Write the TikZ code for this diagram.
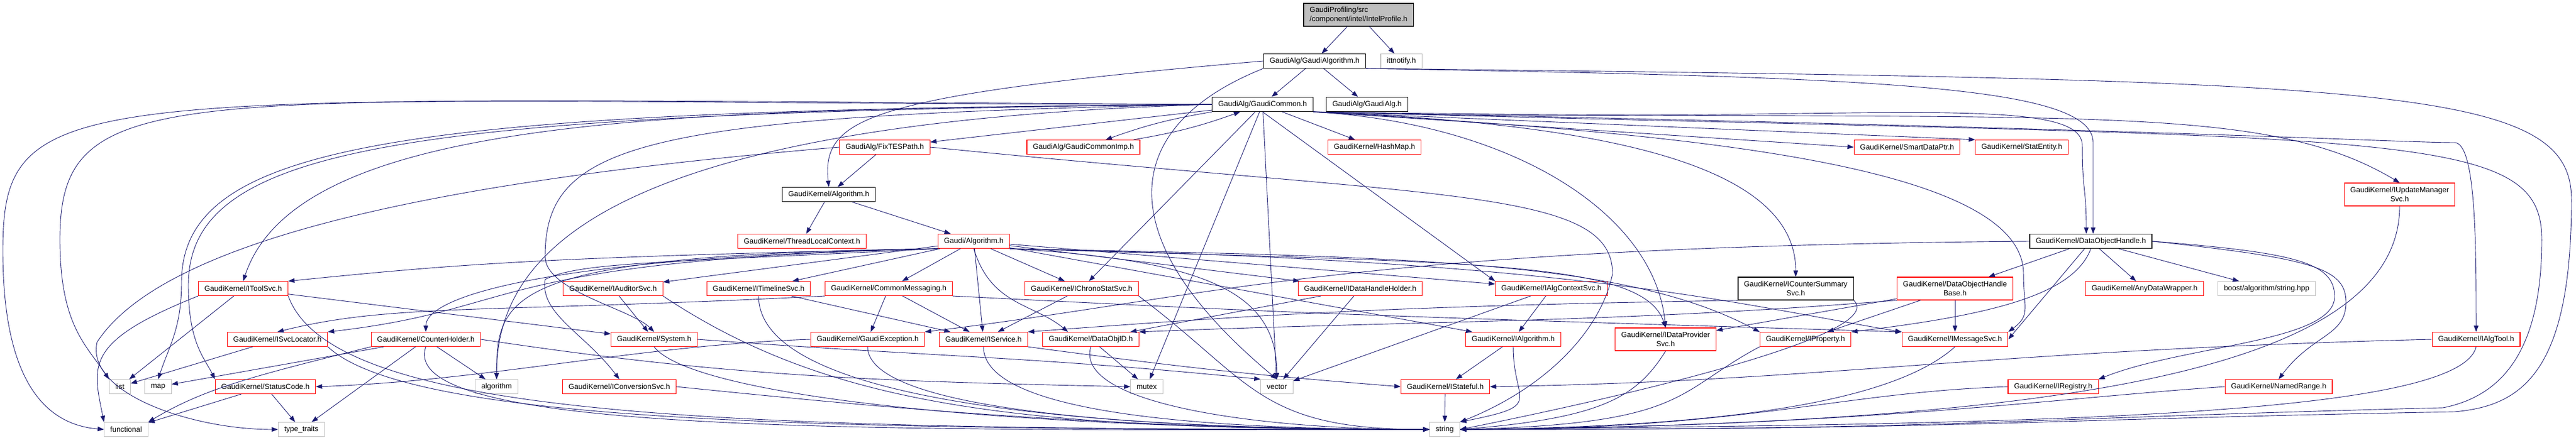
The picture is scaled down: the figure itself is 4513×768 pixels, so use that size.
\documentclass[tikz,border=0pt]{standalone}
\usepackage{fontspec}
\setmainfont{Liberation Sans}
\usetikzlibrary{arrows.meta}
\definecolor{edgeblue}{HTML}{191970}
\definecolor{boxgray}{HTML}{BFBFBF}

\begin{document}
\begin{tikzpicture}[x=1pt,y=-1pt,
	file/.style={draw, line width=1.1pt, inner xsep=10.5pt, inner ysep=2pt, minimum height=25pt, font=\fontsize{13}{15.5}\selectfont},
	known/.style={file, draw=black, line width=1.3pt},
	trunc/.style={file, draw=red},
	sys/.style={file, draw=boxgray},
	twoline/.style={align=center, minimum height=40pt},
	dep/.style={draw=edgeblue, line width=0.9pt, -{Triangle[length=11pt,width=8pt]}}]
				\path[fill=white, use as bounding box] (0,0) rectangle (4513,768);

				\node[known, fill=boxgray, align=left, minimum height=40pt] (intel) at (2380,26) {GaudiProfiling/src\\/component/intel/IntelProfile.h};
				\node[known] (galgorithm) at (2303,107) {GaudiAlg/GaudiAlgorithm.h};
				\node[sys] (ittnotify) at (2455,107) {ittnotify.h};
				\node[known] (gcommon) at (2212,183) {GaudiAlg/GaudiCommon.h};
				\node[known] (galg) at (2395,183) {GaudiAlg/GaudiAlg.h};
				\node[trunc] (fixtes) at (1550,258) {GaudiAlg/FixTESPath.h};
				\node[trunc] (gcommonimp) at (1898,258) {GaudiAlg/GaudiCommonImp.h};
				\node[trunc] (hashmap) at (2408,258) {GaudiKernel/HashMap.h};
				\node[trunc] (smartdataptr) at (3341,258) {GaudiKernel/SmartDataPtr.h};
				\node[trunc] (statentity) at (3542,258) {GaudiKernel/StatEntity.h};
				\node[known] (algorithm) at (1452,341) {GaudiKernel/Algorithm.h};
				\node[trunc, twoline] (iupdatemgr) at (4204,341) {GaudiKernel/IUpdateManager\\Svc.h};
				\node[trunc] (threadlocal) at (1405,423) {GaudiKernel/ThreadLocalContext.h};
				\node[trunc] (gaudialgorithm) at (1706,423) {Gaudi/Algorithm.h};
				\node[known] (dohandle) at (3663,423) {GaudiKernel/DataObjectHandle.h};
				\node[trunc] (itoolsvc) at (426,506) {GaudiKernel/IToolSvc.h};
				\node[trunc] (iauditorsvc) at (1074,506) {GaudiKernel/IAuditorSvc.h};
				\node[trunc] (itimelinesvc) at (1329,506) {GaudiKernel/ITimelineSvc.h};
				\node[trunc] (commonmsg) at (1557,506) {GaudiKernel/CommonMessaging.h};
				\node[trunc] (ichronostatsvc) at (1895,506) {GaudiKernel/IChronoStatSvc.h};
				\node[trunc] (idatahandleholder) at (2383,506) {GaudiKernel/IDataHandleHolder.h};
				\node[trunc] (ialgcontextsvc) at (2718,506) {GaudiKernel/IAlgContextSvc.h};
				\node[known, twoline] (icountersummary) at (3146,506) {GaudiKernel/ICounterSummary\\Svc.h};
				\node[trunc, twoline] (dohandlebase) at (3425,506) {GaudiKernel/DataObjectHandle\\Base.h};
				\node[trunc] (anydatawrapper) at (3757,506) {GaudiKernel/AnyDataWrapper.h};
				\node[sys] (boost) at (3971,506) {boost/algorithm/string.hpp};
				\node[trunc] (isvclocator) at (486,595) {GaudiKernel/ISvcLocator.h};
				\node[trunc] (counterholder) at (746,595) {GaudiKernel/CounterHolder.h};
				\node[trunc] (system) at (1146,595) {GaudiKernel/System.h};
				\node[trunc] (gaudiexception) at (1520,595) {GaudiKernel/GaudiException.h};
				\node[trunc] (iservice) at (1723,595) {GaudiKernel/IService.h};
				\node[trunc] (dataobjid) at (1911,595) {GaudiKernel/DataObjID.h};
				\node[trunc] (ialgorithm) at (2651,595) {GaudiKernel/IAlgorithm.h};
				\node[trunc, twoline] (idataprovider) at (2918,595) {GaudiKernel/IDataProvider\\Svc.h};
				\node[trunc] (iproperty) at (3163,595) {GaudiKernel/IProperty.h};
				\node[trunc] (imessagesvc) at (3425,595) {GaudiKernel/IMessageSvc.h};
				\node[trunc] (ialgtool) at (4338,595) {GaudiKernel/IAlgTool.h};
				\node[sys] (list) at (210,678) {list};
				\node[sys] (map) at (277,678) {map};
				\node[trunc] (statuscode) at (465,678) {GaudiKernel/StatusCode.h};
				\node[sys] (stdalgorithm) at (870,678) {algorithm};
				\node[trunc] (iconversionsvc) at (1085,678) {GaudiKernel/IConversionSvc.h};
				\node[sys] (mutex) at (2009,678) {mutex};
				\node[sys] (vector) at (2237,678) {vector};
				\node[trunc] (istateful) at (2532,678) {GaudiKernel/IStateful.h};
				\node[trunc] (iregistry) at (3597,678) {GaudiKernel/IRegistry.h};
				\node[trunc] (namedrange) at (3992,678) {GaudiKernel/NamedRange.h};
				\node[sys] (functional) at (221,753) {functional};
				\node[sys] (typetraits) at (528,753) {type\_traits};
				\node[sys] (string) at (2531,753) {string};

				\draw[dep] (intel) -- (galgorithm);
				\draw[dep] (intel) -- (ittnotify);
				\draw[dep] (galgorithm) -- (gcommon);
				\draw[dep] (galgorithm) -- (galg);
				\draw[dep] (galgorithm.west) .. controls +(-700,60) and +(-12,-120) .. (algorithm.north);
				\draw[dep] (galgorithm.south west) .. controls +(-250,100) and +(-300,-250) .. (vector.north);
				\draw[dep] (galgorithm.south east) .. controls +(900,15) and +(0,-100) .. (3667,250) .. controls +(0,80) and +(0,-80) .. ([xshift=4pt]dohandle.north);
				\draw[dep] (galgorithm.south east) .. controls +(1800,20) and +(0,-200) .. (4505,350) .. controls +(0,300) and +(120,-10) .. (4300,722) .. controls +(-800,15) and +(900,0) .. (string.east);

				\draw[dep] (gcommon) -- (fixtes);
				\draw[dep] (gcommon) to[bend right=5] (gcommonimp);
				\draw[dep] (gcommonimp) to[bend right=5] (gcommon);
				\draw[dep] (gcommon) -- (hashmap);
				\draw[dep] (gcommon.south east) -- (smartdataptr.west);
				\draw[dep] (gcommon.south east) -- (statentity.north west);
				\draw[dep] (gcommon.south east) .. controls +(1300,20) and +(-250,-150) .. (iupdatemgr.north);
				\draw[dep] (gcommon.south east) .. controls +(1500,30) and +(-100,0) .. (4300,250) .. controls +(38,0) and +(0,-150) .. (ialgtool.north);
				\draw[dep] (gcommon.south east) .. controls +(900,25) and +(0,-100) .. (3648,255) .. controls +(0,80) and +(0,-80) .. ([xshift=-8pt]dohandle.north);
				\draw[dep] (gcommon.south east) .. controls +(1900,50) and +(0,-200) .. (4453,420) .. controls +(0,200) and +(100,-20) .. (4280,715) .. controls +(-800,20) and +(900,0) .. (string.east);
				\draw[dep] (gcommon) -- (ichronostatsvc);
				\draw[dep] (gcommon.south) -- (ialgcontextsvc.north west);
				\draw[dep] (gcommon) -- (mutex);
				\draw[dep] (gcommon) -- (vector);
				\draw[dep] (gcommon.south east) .. controls +(500,20) and +(0,-200) .. (icountersummary.north);
				\draw[dep] (gcommon.south east) .. controls +(350,20) and +(-20,-200) .. (idataprovider.north);
				\draw[dep] (gcommon.south east) .. controls +(600,35) and +(0,-200) .. (3545,480) .. controls +(0,60) and +(40,-30) .. (imessagesvc.north east);
				\draw[dep] (gcommon.west) .. controls +(-900,10) and +(100,-300) .. (itoolsvc.north);
				\draw[dep] (gcommon.west) .. controls +(-1000,20) and +(0,-200) .. (955,450) .. controls +(0,60) and +(-40,-40) .. (system.north);
				\draw[dep] (gcommon.west) .. controls +(-1000,30) and +(0,-250) .. (stdalgorithm.north);
				\draw[dep] (gcommon.west) .. controls +(-1400,15) and +(0,-250) .. (330,500) .. controls +(0,100) and +(-20,-40) .. (statuscode.north west);
				\draw[dep] (gcommon.west) .. controls +(-1400,10) and +(0,-250) .. (318,495) .. controls +(0,80) and +(20,-60) .. (map.north);
				\draw[dep] (gcommon.west) .. controls +(-1800,0) and +(0,-300) .. (105,420) .. controls +(0,150) and +(-40,-60) .. (list.north west);
				\draw[dep] (gcommon.west) .. controls +(-2000,-10) and +(0,-300) .. (5,440) .. controls +(0,200) and +(-120,-10) .. (functional.west);

				\draw[dep] (fixtes) -- (algorithm);
				\draw[dep] (fixtes.east) .. controls +(900,90) and +(0,-150) .. (2825,480) .. controls +(-20,100) and +(150,-60) .. (string.north east);
				\draw[dep] (fixtes.west) .. controls +(-600,50) and +(130,-200) .. (170,600) .. controls +(-20,90) and +(-150,0) .. (typetraits.west);
				\draw[dep] (algorithm) -- (threadlocal);
				\draw[dep] (algorithm) -- (gaudialgorithm);

				\draw[dep] (gaudialgorithm.south west) .. controls +(-700,15) and +(300,-30) .. (itoolsvc.north east);
				\draw[dep] (gaudialgorithm.south west) .. controls +(-800,20) and +(350,-40) .. (isvclocator.north east);
				\draw[dep] (gaudialgorithm.south west) .. controls +(-700,15) and +(0,-60) .. (counterholder.north);
				\draw[dep] (gaudialgorithm.south west) .. controls +(-750,10) and +(0,-150) .. (stdalgorithm.north);
				\draw[dep] (gaudialgorithm.south west) .. controls +(-500,25) and +(60,-30) .. (955,490) .. controls +(-10,60) and +(-60,-80) .. (iconversionsvc.north);
				\draw[dep] (gaudialgorithm) -- (iauditorsvc);
				\draw[dep] (gaudialgorithm) -- (itimelinesvc);
				\draw[dep] (gaudialgorithm) -- (commonmsg);
				\draw[dep] (gaudialgorithm) -- (ichronostatsvc);
				\draw[dep] (gaudialgorithm) -- (iservice);
				\draw[dep] (gaudialgorithm.south) .. controls +(30,100) and +(-60,-50) .. ([xshift=-40pt]dataobjid.north);
				\draw[dep] (gaudialgorithm) -- (idatahandleholder);
				\draw[dep] (gaudialgorithm) -- (ialgcontextsvc);
				\draw[dep] (gaudialgorithm) -- (ialgorithm);
				\draw[dep] (gaudialgorithm.south east) .. controls +(730,14) and +(-230,-123) .. (iproperty.north west);
				\draw[dep] (gaudialgorithm.south east) .. controls +(1000,20) and +(-300,-50) .. (imessagesvc.north west);
				\draw[dep] (gaudialgorithm.south east) .. controls +(800,25) and +(-40,-120) .. (idataprovider.north);
				\draw[dep] (gaudialgorithm.south east) .. controls +(350,20) and +(0,-150) .. (vector.north);

				\draw[dep] (commonmsg) -- (gaudiexception);
				\draw[dep] (commonmsg) -- (iservice);
				\draw[dep] (commonmsg.south west) .. controls +(-600,30) and +(200,-50) .. (isvclocator.north);
				\draw[dep] (commonmsg.south east) .. controls +(600,30) and +(-1000,-30) .. (imessagesvc.north west);
				\draw[dep] (ichronostatsvc) -- (iservice);
				\draw[dep] (ichronostatsvc.south east) .. controls +(200,150) and +(-300,0) .. (string.west);
				\draw[dep] (iauditorsvc) -- (system);
				\draw[dep] (iauditorsvc.south east) .. controls +(300,200) and +(-700,0) .. (string.west);
				\draw[dep] (itimelinesvc) -- (iservice);
				\draw[dep] (itimelinesvc.south) .. controls +(0,150) and +(-800,0) .. (string.west);
				\draw[dep] (itoolsvc) -- (list);
				\draw[dep] (itoolsvc.south west) .. controls +(-200,80) and +(-20,-100) .. (functional.north west);
				\draw[dep] (itoolsvc) -- (system);
				\draw[dep] (itoolsvc.south east) .. controls +(80,220) and +(-1200,0) .. (string.west);
				\draw[dep] (isvclocator) -- (list);
				\draw[dep] (isvclocator.south east) .. controls +(150,140) and +(-1000,0) .. (string.west);
				\draw[dep] (counterholder) -- (map);
				\draw[dep] (counterholder.south west) .. controls +(-200,50) and +(100,-60) .. (functional.north east);
				\draw[dep] (counterholder) -- (typetraits);
				\draw[dep] (counterholder) -- (stdalgorithm);
				\draw[dep] (counterholder.south) .. controls +(-56,160) and +(-900,0) .. (string.west);
				\draw[dep] (counterholder.east) .. controls +(400,60) and +(-500,-10) .. (mutex.west);
				\draw[dep] (statuscode) -- (functional);
				\draw[dep] (statuscode) -- (typetraits);
				\draw[dep] (system.south) .. controls +(60,80) and +(-800,0) .. (string.west);
				\draw[dep] (system.east) .. controls +(400,30) and +(-400,-40) .. (vector.north west);
				\draw[dep] (gaudiexception.south) .. controls +(0,100) and +(-600,0) .. (string.west);
				\draw[dep] (gaudiexception.west) .. controls +(-300,10) and +(300,-10) .. (statuscode.east);
				\draw[dep] (iservice.south east) .. controls +(300,40) and +(-250,-20) .. (istateful.west);
				\draw[dep] (iservice.south) .. controls +(0,100) and +(-500,0) .. (string.west);
				\draw[dep] (dataobjid) -- (mutex);
				\draw[dep] (dataobjid.south) .. controls +(-30,100) and +(-300,0) .. (string.west);
				\draw[dep] (idatahandleholder) -- (dataobjid);
				\draw[dep] (idatahandleholder) -- (vector);
				\draw[dep] (ialgcontextsvc) -- (ialgorithm);
				\draw[dep] (ialgcontextsvc) -- (vector);
				\draw[dep] (ialgorithm) -- (istateful);
				\draw[dep] (ialgorithm.south) .. controls +(0,100) and +(150,-30) .. (string.north east);
				\draw[dep] (istateful) -- (string);
				\draw[dep] (icountersummary.south west) .. controls +(-600,10) and +(400,-30) .. (iservice.north east);
				\draw[dep] (icountersummary.south east) .. controls +(60,60) and +(300,-60) .. (string.east);

				\draw[dep] (dohandlebase.south west) .. controls +(-500,40) and +(500,-20) .. (dataobjid.north east);
				\draw[dep] (dohandlebase) -- (idataprovider);
				\draw[dep] (dohandlebase) -- (iproperty);
				\draw[dep] (dohandlebase) -- (imessagesvc);
				\draw[dep] (dohandle) -- (dohandlebase);
				\draw[dep] (dohandle) -- (anydatawrapper);
				\draw[dep] (dohandle) -- (boost);
				\draw[dep] (dohandle.east) .. controls +(250,20) and +(0,-60) .. (4090,520) .. controls +(0,80) and +(150,-60) .. (iregistry.north east);
				\draw[dep] (dohandle.east) .. controls +(280,30) and +(0,-60) .. (4110,530) .. controls +(0,60) and +(60,-80) .. (namedrange.north);
				\draw[dep] (dohandle) -- (imessagesvc.east);
				\draw[dep] (dohandle.south) .. controls +(-30,80) and +(250,-30) .. (iproperty.north east);
				\draw[dep] (dohandle.west) .. controls +(-1200,10) and +(500,-60) .. (gaudiexception.north east);
				\draw[dep] (idataprovider.south) .. controls +(-50,80) and +(250,-20) .. (string.east);
				\draw[dep] (iproperty.south west) .. controls +(-150,80) and +(400,-10) .. (string.east);
				\draw[dep] (imessagesvc.south) .. controls +(-100,90) and +(500,-5) .. (string.east);
				\draw[dep] (ialgtool.west) .. controls +(-800,20) and +(600,-10) .. (istateful.east);
				\draw[dep] (ialgtool.south) .. controls +(-30,130) and +(900,-10) .. (string.east);
				\draw[dep] (iupdatemgr.south) .. controls +(0,300) and +(1000,-10) .. (string.east);
				\draw[dep] (iregistry.west) .. controls +(-300,10) and +(500,0) .. (string.east);
				\draw[dep] (namedrange.west) .. controls +(-300,20) and +(700,-5) .. (string.east);
				\draw[dep] (iconversionsvc.east) .. controls +(300,30) and +(-600,0) .. (string.west);
			\end{tikzpicture}
\end{document}
